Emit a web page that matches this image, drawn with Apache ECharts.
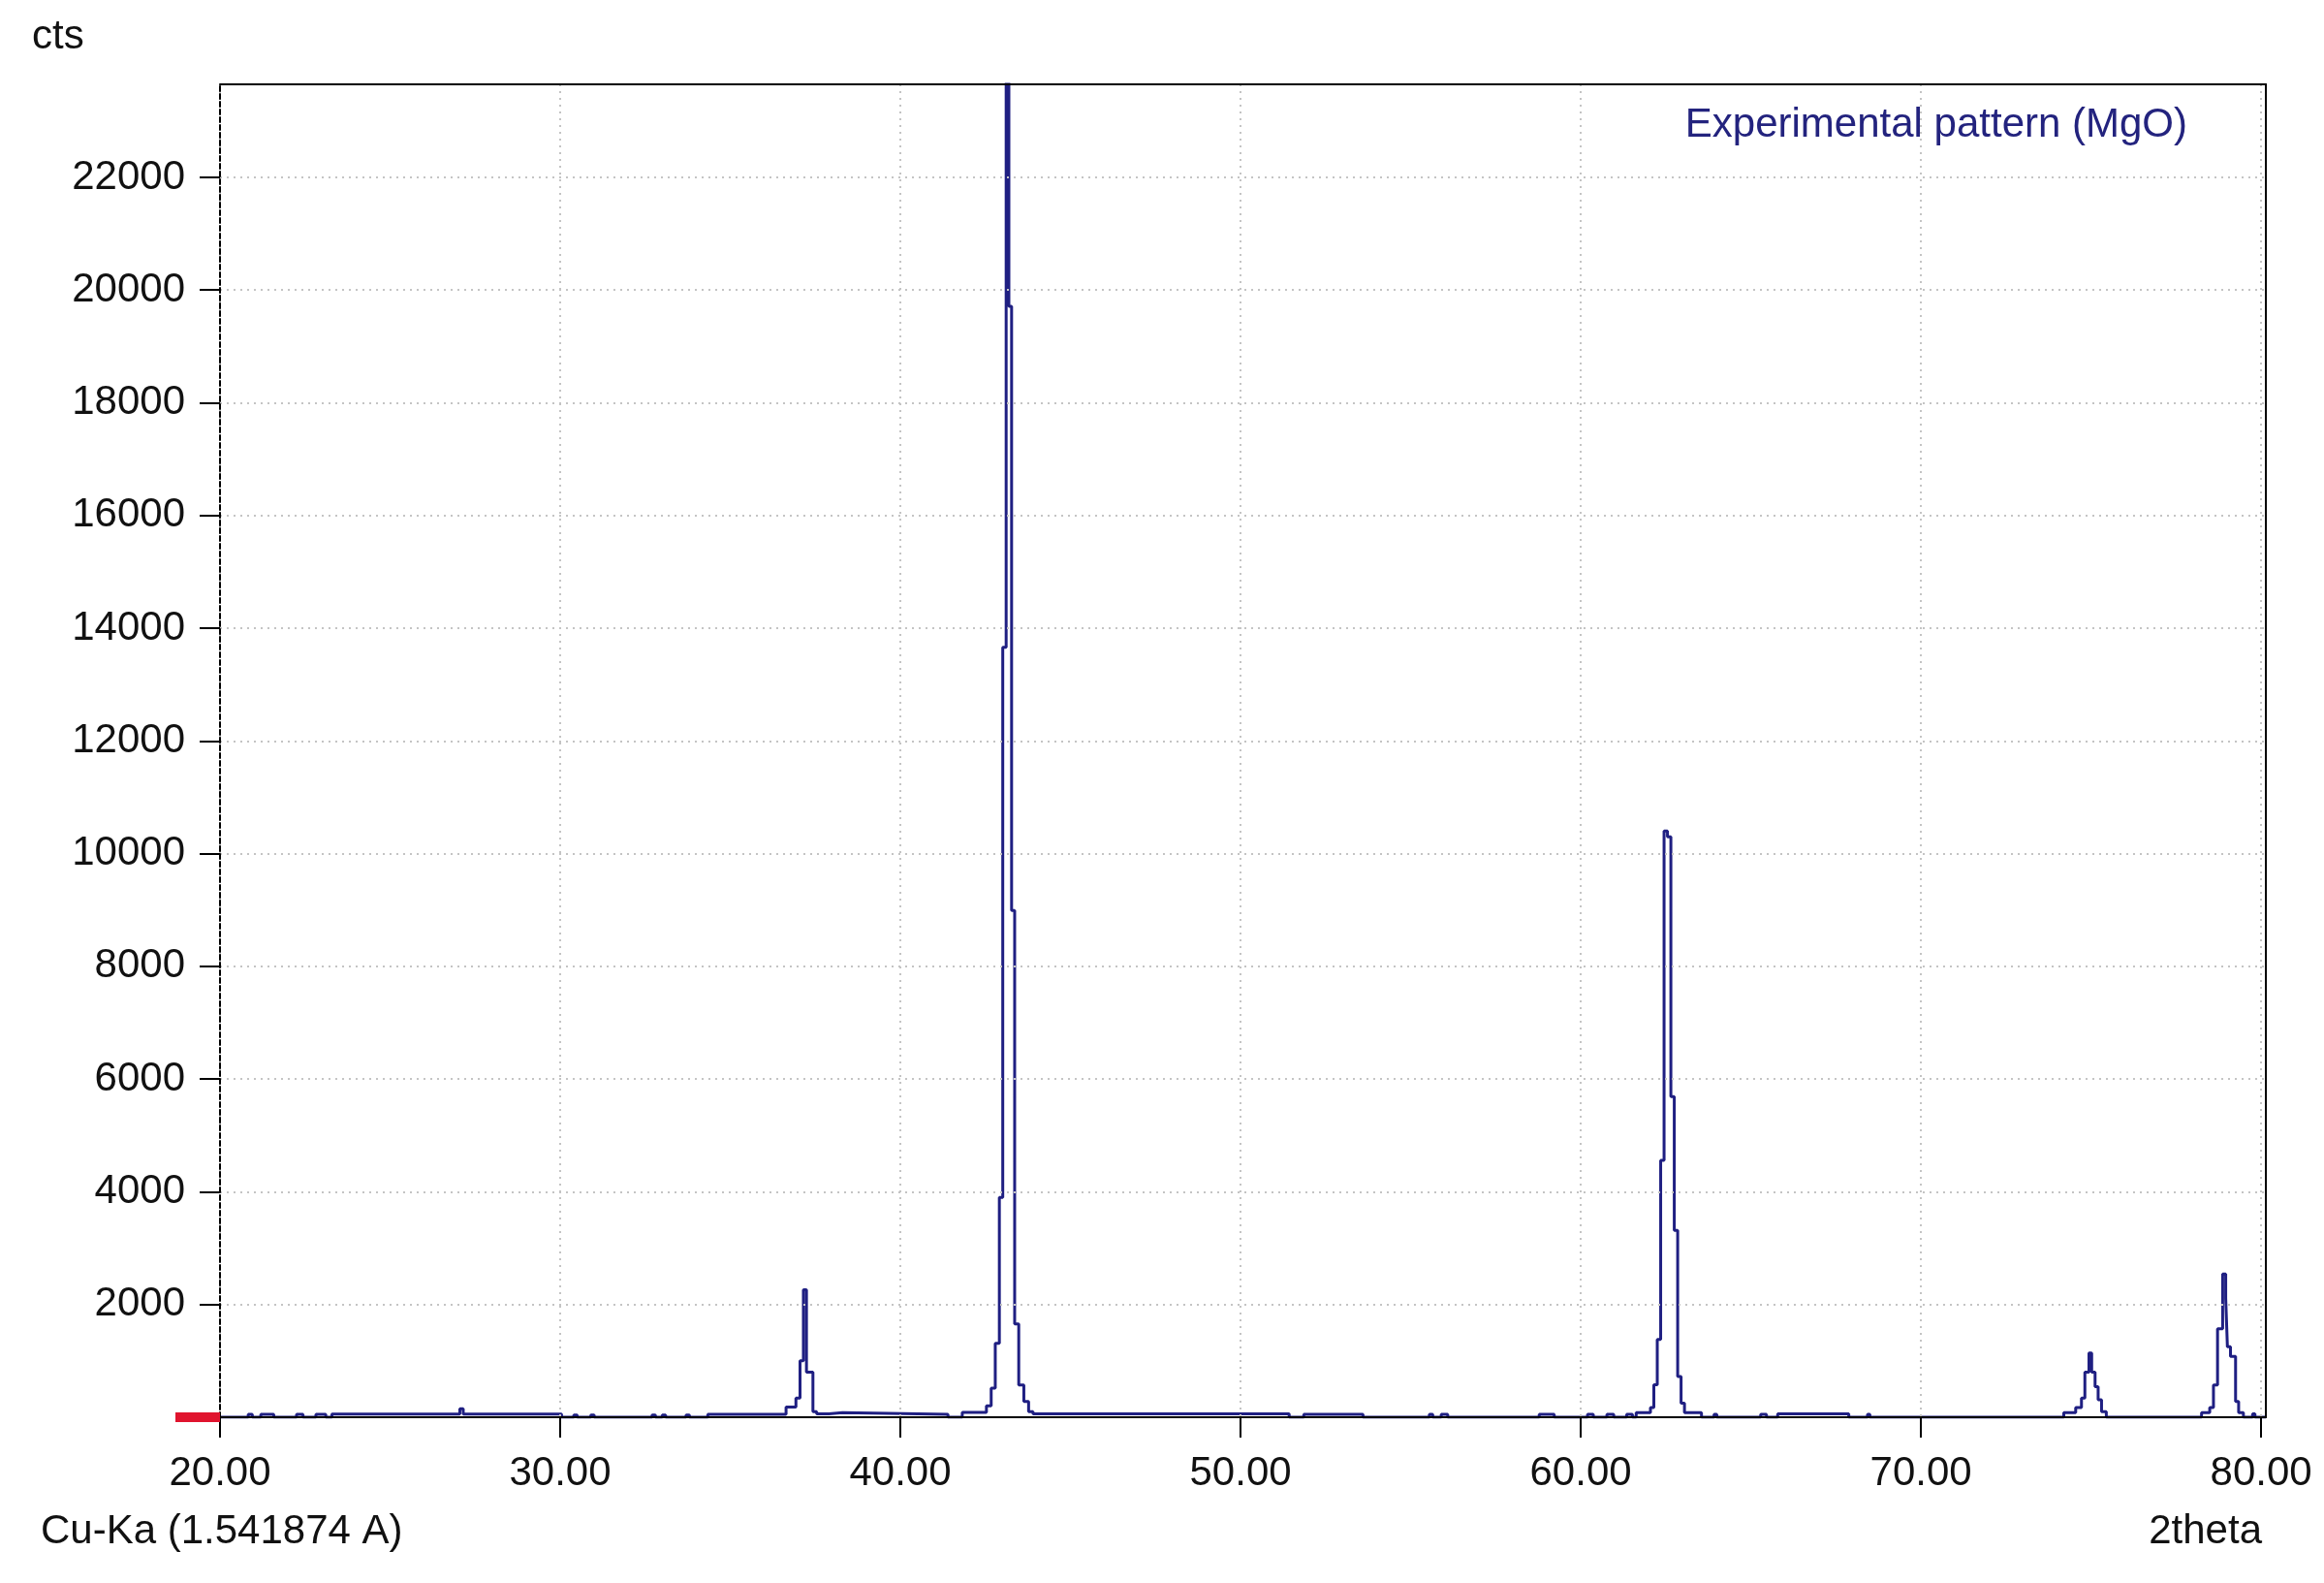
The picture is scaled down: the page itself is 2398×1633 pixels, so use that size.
<!DOCTYPE html>
<html>
<head>
<meta charset="utf-8">
<script src="https://cdn.jsdelivr.net/npm/echarts@6/dist/echarts.min.js"></script>
<style>
html,body{margin:0;padding:0;background:#fff;}
#chart{width:2398px;height:1633px;}
</style>
</head>
<body>
<div id="chart"></div>
<script>
// Step-pattern change points: each count holds from its 2theta until the next one
const twoTheta = [
  20.00, 20.83, 20.95, 21.20, 21.58, 22.25, 22.44, 22.82, 23.11, 23.29, 27.05, 27.15, 30.04,
  30.40, 30.50, 30.90, 31.00, 32.70, 32.80, 33.00, 33.10, 33.70, 33.80, 34.34,
  36.64, 36.93, 37.05, 37.15, 37.24, 37.43, 37.54, 37.90, 38.30, 41.40,
  41.82, 42.53, 42.67, 42.79, 42.91, 43.01, 43.11, 43.19, 43.27, 43.36, 43.48, 43.63, 43.77, 43.90,
  51.43, 51.86, 53.60, 55.55, 55.65, 55.90, 56.09, 58.78, 59.22, 60.20, 60.37, 60.77, 60.97, 61.35, 61.52,
  61.63, 62.05, 62.15, 62.25, 62.35, 62.45, 62.55, 62.65, 62.75, 62.85, 62.95, 63.05, 63.55,
  63.92, 64.00, 65.29, 65.46, 65.79, 67.88, 68.43, 68.50,
  74.20, 74.55, 74.72, 74.82, 74.94, 75.02, 75.12, 75.21, 75.31, 75.45,
  78.25, 78.49, 78.60, 78.72, 78.87, 78.96, 79.01, 79.10, 79.25, 79.34, 79.48, 79.75, 79.82, 80.14
];
const counts = [
  0, 50, 0, 50, 0, 50, 0, 50, 0, 55, 150, 55, 0,
  40, 0, 40, 0, 40, 0, 40, 0, 40, 0, 50,
  180, 340, 1000, 2260, 800, 100, 60, 80, 50, 0,
  85, 200, 515, 1310, 3900, 13660, 30000, 19710, 8990, 1655, 570, 280, 100, 60,
  0, 50, 0, 50, 0, 50, 0, 50, 0, 50, 0, 50, 0, 50, 0,
  80, 170, 575, 1380, 4560, 10400, 10300, 5690, 3315, 722, 250, 80, 0,
  50, 0, 50, 0, 60, 0, 50, 0,
  80, 170, 340, 800, 1140, 800, 540, 310, 100, 0,
  80, 170, 570, 1570, 2540, 2110, 1250, 1080, 280, 80, 0, 60, 0, 0
];
const xTicks = [20, 30, 40, 50, 60, 70, 80];
const yTicks = [2000, 4000, 6000, 8000, 10000, 12000, 14000, 16000, 18000, 20000, 22000];
const xMin = 20, xMax = 80.14, yMin = 0, yMax = 23650;
const seriesName = 'Experimental pattern (MgO)';
const yTitle = 'cts';
const xTitle = '2theta';
const radiation = 'Cu-Ka (1.541874 A)';

const FONT = '"Liberation Sans", Arial, sans-serif';
const chart = echarts.init(document.getElementById('chart'), null, {renderer: 'canvas'});
const gridStyle = {color: '#c4c4c4', width: 2, type: [2, 5]};

const option = {
  animation: false,
  backgroundColor: '#ffffff',
  grid: {left: 227, right: 60, top: 87, bottom: 171, containLabel: false},
  xAxis: [{
    type: 'value', position: 'bottom', min: xMin, max: xMax, interval: 10, z: 3,
    axisLine: {show: true, onZero: false, lineStyle: {color: '#000', width: 2}},
    axisTick: {show: true, inside: false, length: 21, customValues: xTicks, lineStyle: {color: '#000', width: 2}},
    axisLabel: {show: true, customValues: xTicks, margin: 37, fontSize: 42, lineHeight: 42, color: '#111', fontFamily: FONT,
      formatter: v => v.toFixed(2)},
    splitLine: {show: true, lineStyle: gridStyle}
  }, {
    type: 'value', position: 'top', min: xMin, max: xMax, z: 3,
    axisLine: {show: true, onZero: false, lineStyle: {color: '#000', width: 2}},
    axisTick: {show: false}, axisLabel: {show: false}, splitLine: {show: false}
  }],
  yAxis: [{
    type: 'value', position: 'left', min: yMin, max: yMax, interval: 2000, z: 3,
    axisLine: {show: true, onZero: false, lineStyle: {color: '#000', width: 2, type: [5, 3]}},
    axisTick: {show: true, inside: false, length: 21, customValues: yTicks, lineStyle: {color: '#000', width: 2}},
    axisLabel: {show: true, customValues: yTicks, margin: 36, fontSize: 42, color: '#111', fontFamily: FONT,
      formatter: v => String(v)},
    splitLine: {show: true, lineStyle: gridStyle}
  }, {
    type: 'value', position: 'right', min: yMin, max: yMax, z: 3,
    axisLine: {show: true, onZero: false, lineStyle: {color: '#000', width: 2}},
    axisTick: {show: false}, axisLabel: {show: false}, splitLine: {show: false}
  }],
  series: [{
    name: seriesName,
    type: 'line',
    step: 'end',
    xAxisIndex: 0, yAxisIndex: 0,
    showSymbol: false,
    clip: true,
    z: 2,
    lineStyle: {color: '#1f1f82', width: 3},
    data: twoTheta.map((t, i) => [t, counts[i]])
  }]
};
chart.setOption(option);

const origin = chart.convertToPixel({xAxisIndex: 0, yAxisIndex: 0}, [xMin, yMin]);
chart.setOption({
  graphic: [
    {type: 'rect', z: 10, shape: {x: origin[0] - 46, y: origin[1] - 5, width: 46, height: 10},
      style: {fill: '#e0142e'}},
    {type: 'text', left: 33, top: 17, z: 10,
      style: {text: yTitle, fontSize: 42, fontFamily: FONT, fill: '#111'}},
    {type: 'text', left: 42, top: 1559, z: 10,
      style: {text: radiation, fontSize: 42, fontFamily: FONT, fill: '#111'}},
    {type: 'text', right: 2398 - 2334, top: 1559, z: 10,
      style: {text: xTitle, fontSize: 42, fontFamily: FONT, fill: '#111'}},
    {type: 'text', right: 2398 - 2257, top: 108, z: 10,
      style: {text: seriesName, fontSize: 42, fontFamily: FONT, fill: '#23237e'}}
  ]
});
</script>
</body>
</html>
